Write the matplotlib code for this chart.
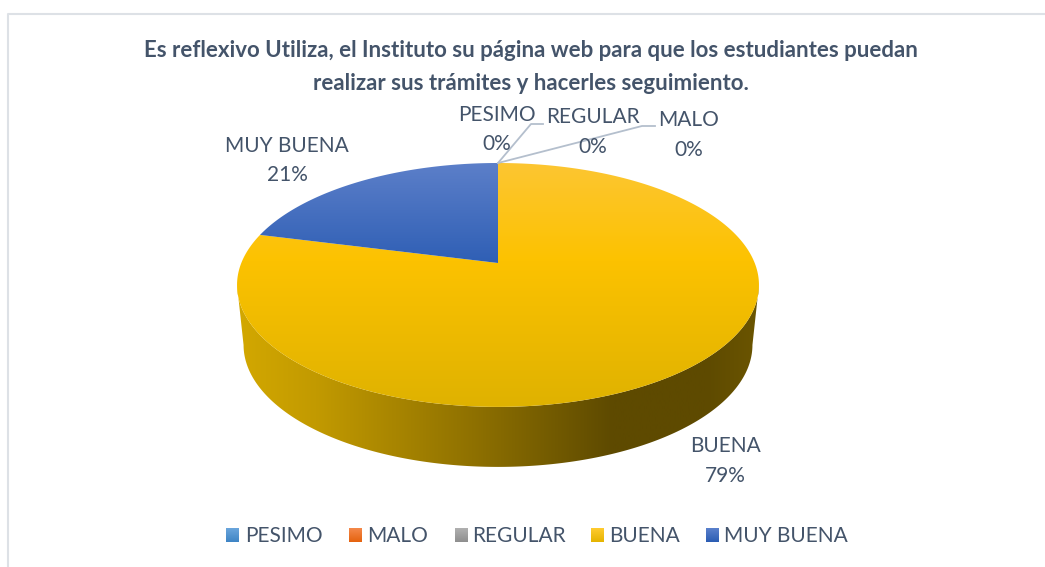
import numpy as np
import matplotlib
matplotlib.use('Agg')
import matplotlib.pyplot as plt
from matplotlib.colors import LinearSegmentedColormap
from matplotlib.patches import Polygon

plt.rcParams['font.family'] = ['Lato', 'DejaVu Sans']

title = ("Es reflexivo Utiliza, el Instituto su página web para que los estudiantes puedan\n"
         "realizar sus trámites y hacerles seguimiento.")
categories = ['PESIMO', 'MALO', 'REGULAR', 'BUENA', 'MUY BUENA']
values = [0, 0, 0, 79, 21]

W, H = 1045, 567
fig = plt.figure(figsize=(W/100, H/100), dpi=100)
ax = fig.add_axes([0, 0, 1, 1])
ax.set_xlim(0, W)
ax.set_ylim(H, 0)
ax.axis('off')

txt = '#44546a'
frame = '#dde1e6'

# perspective of the pie plane
cx, cy = 498, 263
a, b, p = 256.7, 118.0, 0.18
depth = 60


def proj(theta):
    # theta clockwise from 12 o'clock, degrees
    t = np.radians(theta)
    u, v = np.sin(t), np.cos(t)
    w = 1 + p*v
    return cx + a*u/w, cy - b*v/w


def grad(poly, cmap, extent, horizontal=False, zorder=2):
    g = np.linspace(0, 1, 256)
    g = g.reshape(1, -1) if horizontal else g.reshape(-1, 1)
    im = ax.imshow(g, cmap=cmap, extent=extent, aspect='auto', zorder=zorder,
                   interpolation='bilinear', vmin=0, vmax=1)
    patch = Polygon(poly, closed=True, transform=ax.transData, fc='none', ec='none')
    ax.add_patch(patch)
    im.set_clip_path(patch)


# side wall, visible part of the rim
ex, ey = proj(np.linspace(100.4, 259.6, 300))
bx = cx + (ex - cx)*0.975
by = ey + depth
wall = np.column_stack([np.r_[ex, bx[::-1]], np.r_[ey, by[::-1]]])
side = LinearSegmentedColormap.from_list('side', [
    (0.0, '#d3a800'), (0.15, '#c29a00'), (0.45, '#8f7100'),
    (0.72, '#5e4a00'), (0.9, '#5e4a00'), (1.0, '#6b5500')])
grad(wall, side, (237, 759, H, 0), horizontal=True, zorder=2)

# top wedges
top_buena = LinearSegmentedColormap.from_list('buena', [
    (0.0, '#fdc632'), (0.4, '#fcc200'), (1.0, '#dfb200')])
top_muy = LinearSegmentedColormap.from_list('muy', [
    (0.0, '#5c7fc9'), (1.0, '#2f5fb5')])

ends = np.cumsum(values)/np.sum(values)*360
xb, yb = proj(np.linspace(ends[2], ends[3], 300))
poly_b = np.column_stack([np.r_[cx, xb], np.r_[cy, yb]])
grad(poly_b, top_buena, (237, 759, 407, 163), zorder=3)

xm, ym = proj(np.linspace(ends[3], ends[4], 100))
poly_m = np.column_stack([np.r_[cx, xm], np.r_[cy, ym]])
grad(poly_m, top_muy, (237, 759, 263, 163), zorder=4)

# data labels
lab = [('PESIMO', 497, 115, 144), ('REGULAR', 593, 117, 147), ('MALO', 689, 120, 150),
       ('MUY BUENA', 287, 146, 175), ('BUENA', 725, 446, 476)]
vals = dict(zip(categories, values))
for name, x, y1, y2 in lab:
    ax.text(x, y1, name, color=txt, fontsize=15, ha='center', va='center', zorder=6)
    ax.text(x, y2, f"{vals[name]}%", color=txt, fontsize=15, ha='center', va='center', zorder=6)

# leader lines
line = '#b4bfcd'
ax.plot([498, 531, 543], [163, 124, 124], color=line, lw=1.3, zorder=5)
ax.plot([498, 642, 655], [163, 126, 126], color=line, lw=1.3, zorder=5)

# title
ax.text(531, 67, title, color=txt, fontsize=16, fontweight='bold', ha='center', va='center',
        linespacing=1.65, zorder=6)

# legend
leg_cols = [('#6aa5dc', '#3f85c5'), ('#f4884a', '#e5630f'), ('#b0b0b0', '#8f8f8f'),
            ('#ffcb30', '#e5b400'), ('#5a80cc', '#2b5db3')]
sw_x = [226, 349, 455, 591, 706]
txt_x = [245, 367, 472, 609, 724]
for name, col, sx0, tx in zip(categories, leg_cols, sw_x, txt_x):
    cm = LinearSegmentedColormap.from_list(name, col)
    ax.imshow(np.linspace(0, 1, 32).reshape(-1, 1), cmap=cm, extent=(sx0, sx0+13, 542, 528),
              aspect='auto', zorder=5)
    ax.text(tx, 536, name, color=txt, fontsize=15, ha='left', va='center', zorder=6)

ax.set_xlim(0, W)
ax.set_ylim(H, 0)

# chart frame, cut off at the right and bottom of the picture
ax.plot([8, 8, W], [H, 14, 14], color=frame, lw=1.5, zorder=1)

fig.savefig('out.png', dpi=100)
